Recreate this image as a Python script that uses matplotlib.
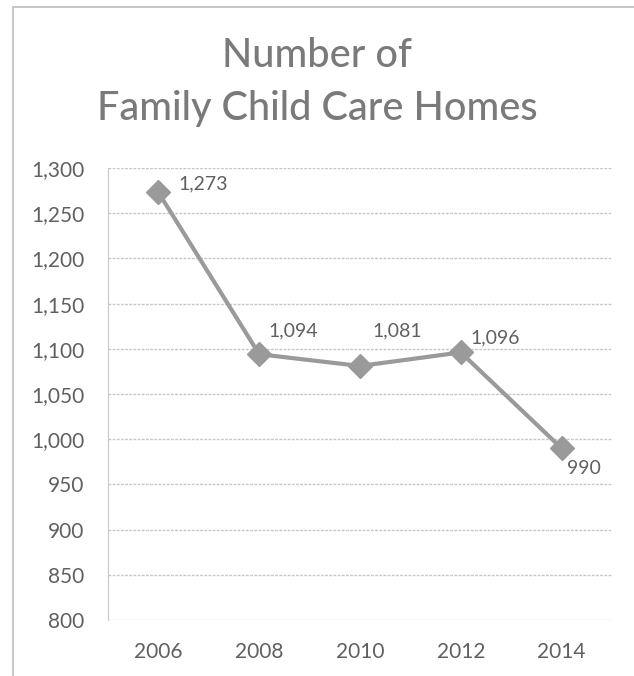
import matplotlib.pyplot as plt
from matplotlib.patches import Rectangle

years = ['2006', '2008', '2010', '2012', '2014']
homes = [1273, 1094, 1081, 1096, 990]
yticks = list(range(800, 1301, 50))

plt.rcParams['font.family'] = ['Lato', 'DejaVu Sans']

fig = plt.figure(figsize=(6.34, 6.76), dpi=100)
ax = fig.add_axes([108/634, 1 - 620/676, 504/634, 452/676])

# outer chart border (scan is cropped on right and bottom)
fig.patches.append(Rectangle((13/634, -0.05), 1.1, 1 - 7/676 + 0.05,
                             transform=fig.transFigure, fill=False,
                             edgecolor='#bdbdbd', lw=1.2))

x = range(len(years))
ax.plot(x, homes, color='#9a9a9a', lw=3, marker='D', ms=12,
        markerfacecolor='#9a9a9a', markeredgecolor='#9a9a9a', zorder=3)

# label offsets in pixels (dx, dy), as placed in the original chart
label_off = [(20, 9), (9, 23), (12, 35), (10, 15), (5, -20)]
for i, v in enumerate(homes):
    dx, dy = label_off[i]
    ax.annotate(f'{v:,}', (i, v), xytext=(dx, dy), textcoords='offset pixels',
                ha='left', va='center', fontsize=14, color='#606060')

ax.set_xlim(-0.5, len(years) - 0.5)
ax.set_ylim(800, 1300)
ax.set_yticks(yticks)
ax.set_yticklabels([f'{t:,}' for t in yticks])
ax.set_xticks(list(x))
ax.set_xticklabels(years)
ax.tick_params(axis='both', length=0, labelsize=15, labelcolor='#606060')
ax.tick_params(axis='y', pad=17)
ax.tick_params(axis='x', pad=16)
ax.grid(axis='y', color='#c8c8c8', lw=1, ls=(0, (2, 1)))
ax.set_axisbelow(True)
for s in ['top', 'right', 'bottom']:
    ax.spines[s].set_visible(False)
ax.spines['left'].set_color('#c8c8c8')

fig.text(0.5, 1 - 67/676, 'Number of', ha='center', va='baseline',
         fontsize=28.5, color='#7a7a7a', fontweight='medium')
fig.text(0.5, 1 - 120/676, 'Family Child Care Homes', ha='center', va='baseline',
         fontsize=28.5, color='#7a7a7a', fontweight='medium')

fig.savefig('out.png', dpi=100)
